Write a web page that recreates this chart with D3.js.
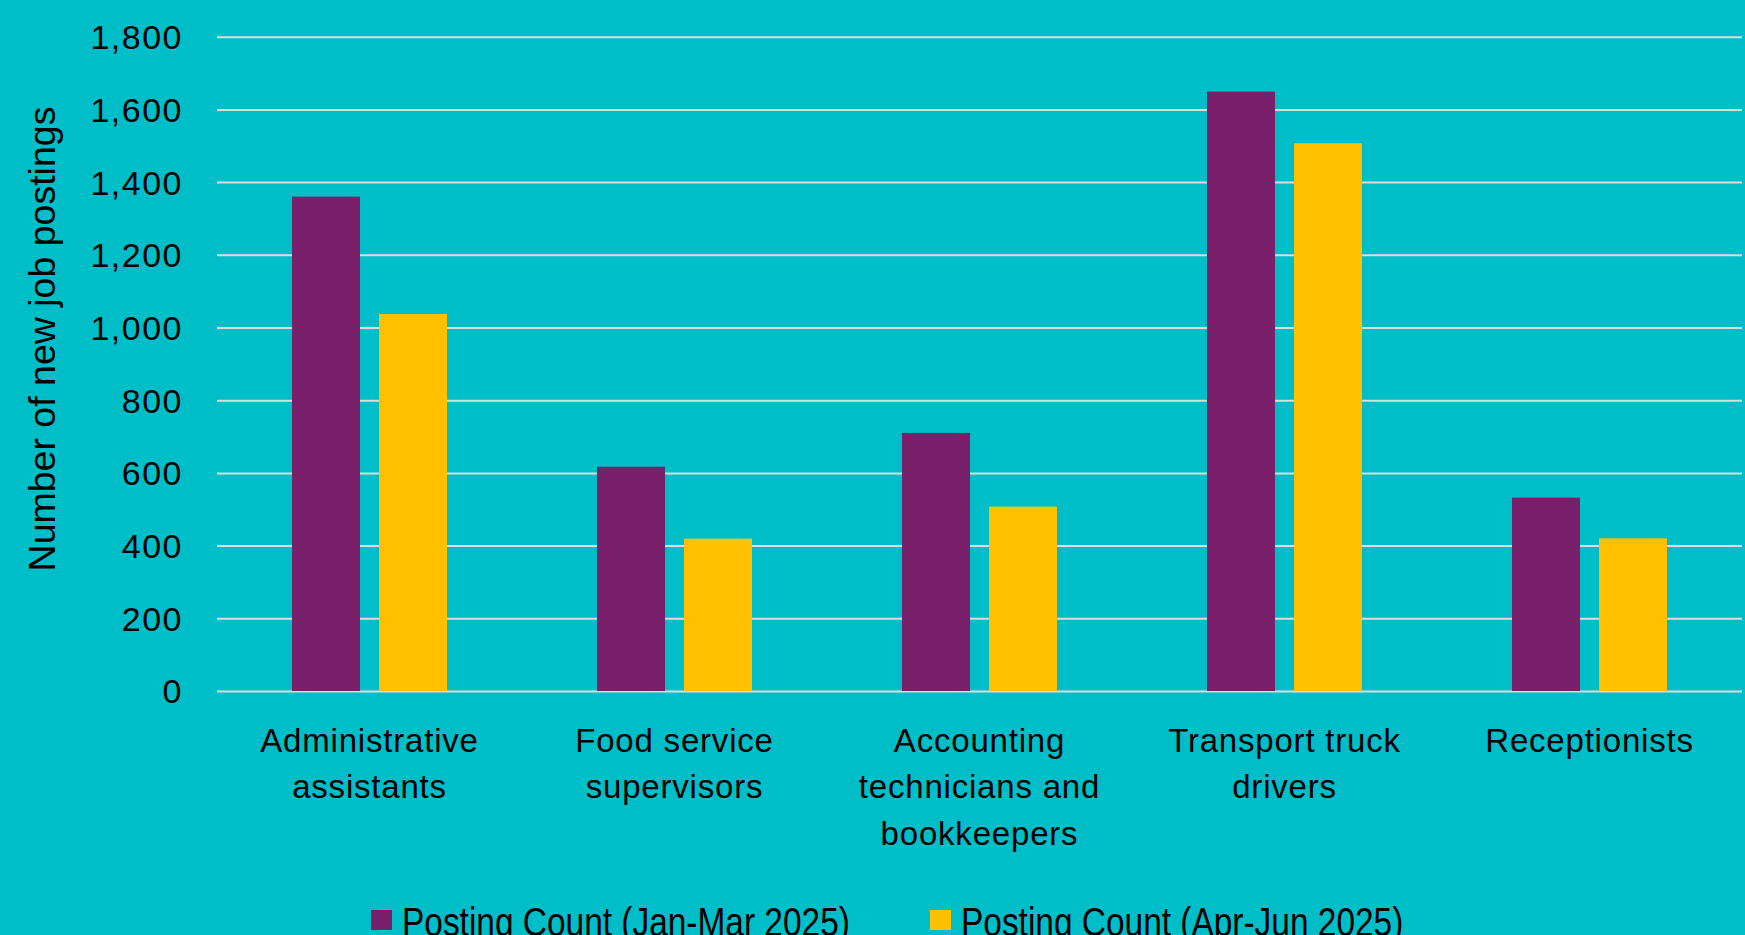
<!DOCTYPE html>
<html>
<head>
<meta charset="utf-8">
<title>New job postings</title>
<script src="https://d3js.org/d3.v7.min.js"></script>
<style>
  html, body { margin: 0; padding: 0; background: #00bec8; }
  svg { display: block; }
  .tick text { font-family: "Liberation Sans", Arial, sans-serif; fill: #000; }
</style>
</head>
<body>
<svg width="1745" height="935"></svg>
<script>
// data
var categories = [
  ["Administrative", "assistants"],
  ["Food service", "supervisors"],
  ["Accounting", "technicians and", "bookkeepers"],
  ["Transport truck", "drivers"],
  ["Receptionists"]
];
var seriesNames = ["Posting Count (Jan-Mar 2025)", "Posting Count (Apr-Jun 2025)"];
var janMar = [1360, 617, 710, 1649, 532];
var aprJun = [1037, 419, 507, 1507, 420];
var yTicks = [0, 200, 400, 600, 800, 1000, 1200, 1400, 1600, 1800];
var colors = ["#7a1f6a", "#ffc000"];

var svg = d3.select("svg");
var plotLeft = 217, plotRight = 1742, plotTop = 36.7, plotBottom = 691;

var keys = categories.map(function(c) { return c.join(" "); });
var rows = keys.map(function(k, i) {
  return { key: k, lines: categories[i], values: [janMar[i], aprJun[i]] };
});

var x0 = d3.scaleBand().domain(keys).range([plotLeft, plotRight]);
var x1 = d3.scaleBand().domain([0, 1])
  .range([0, x0.bandwidth()])
  .paddingInner(0.2184)
  .paddingOuter(0.862);
var y = d3.scaleLinear().domain([0, 1800]).range([plotBottom, plotTop]);

// gridlines + tick labels
var yAxis = svg.append("g")
  .attr("transform", "translate(" + plotLeft + ",0)")
  .call(d3.axisLeft(y)
    .tickValues(yTicks)
    .tickFormat(d3.format(","))
    .tickSizeInner(-(plotRight - plotLeft))
    .tickSizeOuter(0)
    .tickPadding(34));
yAxis.select(".domain").remove();
yAxis.selectAll(".tick line").attr("stroke", "#dcdcdc").attr("stroke-width", 2);
yAxis.selectAll(".tick text")
  .attr("font-size", 34)
  .attr("letter-spacing", 1.5)
  .attr("dy", "0.35em");

// bars
var groups = svg.append("g").selectAll("g")
  .data(rows).enter()
  .append("g")
  .attr("transform", function(d) { return "translate(" + x0(d.key) + ",0)"; });

groups.selectAll("rect")
  .data(function(d) { return d.values.map(function(v, i) { return { s: i, v: v }; }); })
  .enter()
  .append("rect")
  .attr("x", function(d) { return x1(d.s); })
  .attr("width", x1.bandwidth())
  .attr("y", function(d) { return y(d.v); })
  .attr("height", function(d) { return y(0) - y(d.v); })
  .attr("fill", function(d) { return colors[d.s]; });

// category labels
var labels = svg.append("g").selectAll("text")
  .data(rows).enter()
  .append("text")
  .attr("x", function(d) { return x0(d.key) + x0.bandwidth() / 2; })
  .attr("y", 751.7)
  .attr("text-anchor", "middle")
  .attr("font-family", "'Liberation Sans', Arial, sans-serif")
  .attr("font-size", 33)
  .attr("letter-spacing", 0.8)
  .attr("fill", "#000");

labels.selectAll("tspan")
  .data(function(d) { return d.lines.map(function(l) { return { l: l, x: x0(d.key) + x0.bandwidth() / 2 }; }); })
  .enter()
  .append("tspan")
  .attr("x", function(d) { return d.x; })
  .attr("dy", function(d, i) { return i === 0 ? 0 : 46.5; })
  .text(function(d) { return d.l; });

// y axis title
svg.append("text")
  .attr("transform", "translate(55,339) rotate(-90)")
  .attr("text-anchor", "middle")
  .attr("font-family", "'Liberation Sans', Arial, sans-serif")
  .attr("font-size", 37.5)
  .attr("fill", "#000")
  .text("Number of new job postings");

// legend (narrow face imitated by squeezing Liberation Sans)
var legendX = [371, 930];
var legend = svg.append("g").selectAll("g")
  .data(seriesNames).enter()
  .append("g")
  .attr("transform", function(d, i) { return "translate(" + legendX[i] + ",910)"; });

legend.append("rect")
  .attr("width", 21)
  .attr("height", 20)
  .attr("fill", function(d, i) { return colors[i]; });

legend.append("text")
  .attr("transform", "translate(31,26) scale(0.836,1)")
  .attr("font-family", "'Liberation Sans', Arial, sans-serif")
  .attr("font-size", 40)
  .attr("fill", "#000")
  .text(function(d) { return d; });
</script>
</body>
</html>
